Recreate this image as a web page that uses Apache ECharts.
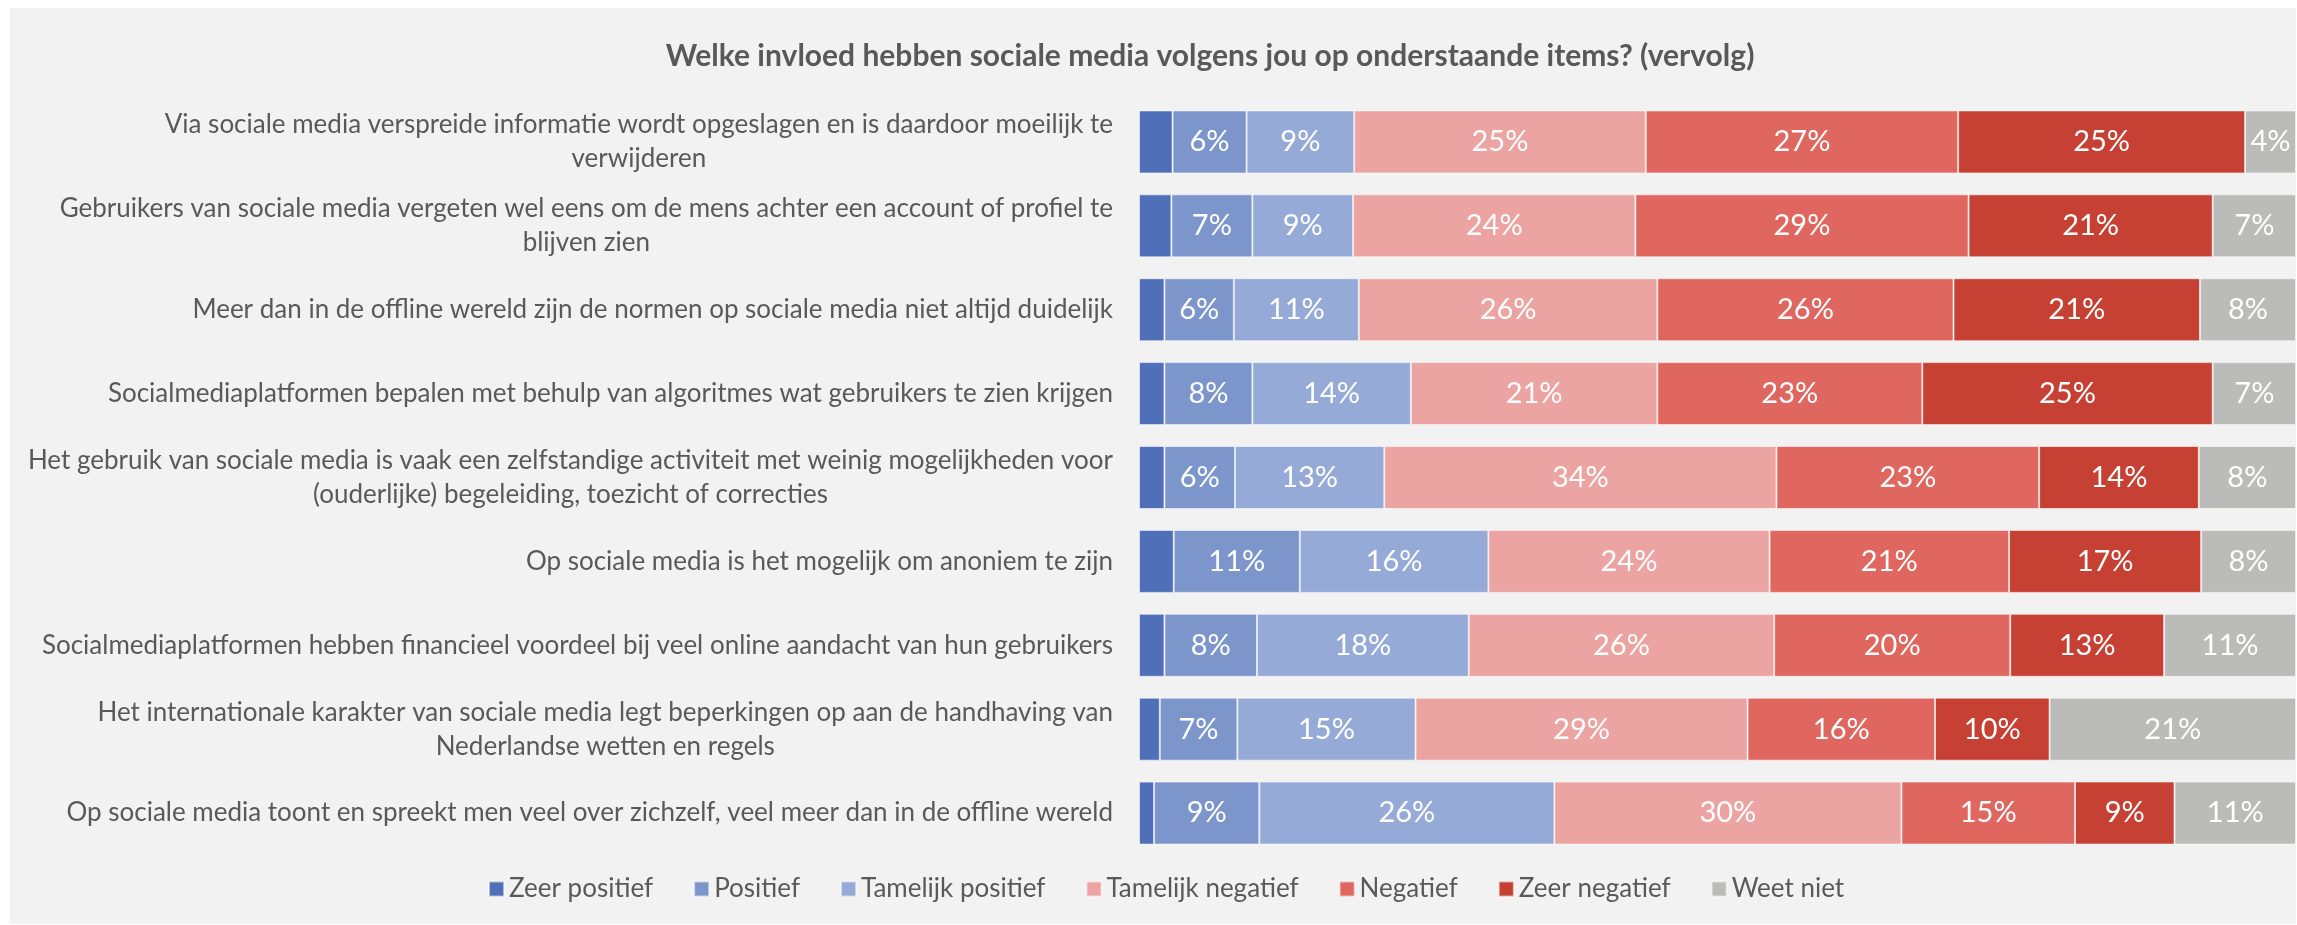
<!DOCTYPE html>
<html>
<head>
<meta charset="utf-8">
<script src="https://cdn.jsdelivr.net/npm/echarts@6/dist/echarts.min.js"></script>
<style>
  html, body { margin: 0; padding: 0; background: #ffffff; }
  #chart { width: 2297px; height: 925px; }
</style>
</head>
<body>
<div id="chart"></div>
<script>
const categories = [
  "Via sociale media verspreide informatie wordt opgeslagen en is daardoor moeilijk te\nverwijderen",
  "Gebruikers van sociale media vergeten wel eens om de mens achter een account of profiel te\nblijven zien",
  "Meer dan in de offline wereld zijn de normen op sociale media niet altijd duidelijk",
  "Socialmediaplatformen bepalen met behulp van algoritmes wat gebruikers te zien krijgen",
  "Het gebruik van sociale media is vaak een zelfstandige activiteit met weinig mogelijkheden voor\n(ouderlijke) begeleiding, toezicht of correcties",
  "Op sociale media is het mogelijk om anoniem te zijn",
  "Socialmediaplatformen hebben financieel voordeel bij veel online aandacht van hun gebruikers",
  "Het internationale karakter van sociale media legt beperkingen op aan de handhaving van\nNederlandse wetten en regels",
  "Op sociale media toont en spreekt men veel over zichzelf, veel meer dan in de offline wereld"
];
const seriesNames = ["Zeer positief", "Positief", "Tamelijk positief", "Tamelijk negatief", "Negatief", "Zeer negatief", "Weet niet"];
const zeerPositief     = [2.9, 2.8, 2.2, 2.2, 2.2, 3.0, 2.2, 1.8, 1.3];
const positief         = [6.4, 7.0, 6.0, 7.6, 6.1, 10.9, 8.0, 6.7, 9.1];
const tamelijkPositief = [9.3, 8.7, 10.8, 13.7, 12.9, 16.3, 18.3, 15.4, 25.5];
const tamelijkNegatief = [25.2, 24.4, 25.8, 21.3, 33.9, 24.3, 26.4, 28.7, 30.0];
const negatief         = [27.0, 28.8, 25.6, 22.9, 22.7, 20.7, 20.4, 16.2, 15.0];
const zeerNegatief     = [24.8, 21.1, 21.3, 25.1, 13.8, 16.6, 13.3, 9.9, 8.6];
const weetNiet         = [4.4, 7.2, 8.3, 7.2, 8.4, 8.2, 11.4, 21.3, 10.5];
const seriesValues = [zeerPositief, positief, tamelijkPositief, tamelijkNegatief, negatief, zeerNegatief, weetNiet];
const colors = ["#4f70b8", "#7c96cc", "#96aad7", "#eba4a1", "#df675f", "#c64034", "#bbbbb9"];
const showLabel = [false, true, true, true, true, true, true];

const FONT = "Lato";
const TEXT = "#595959";

const chart = echarts.init(document.getElementById('chart'), null, { renderer: 'canvas' });

const series = seriesNames.map((name, i) => ({
  name: name,
  type: 'bar',
  stack: 'total',
  barWidth: 63,
  data: seriesValues[i],
  itemStyle: { color: colors[i], borderColor: 'rgba(255,255,255,0.55)', borderWidth: 1 },
  label: {
    show: showLabel[i],
    position: 'inside',
    color: '#ffffff',
    fontFamily: FONT,
    fontSize: 29,
    formatter: p => Math.round(p.value) + '%'
  },
  emphasis: { disabled: true }
}));

chart.setOption({
  backgroundColor: '#ffffff',
  animation: false,
  graphic: [{
    type: 'rect', z: -100, silent: true,
    shape: { x: 10, y: 8, width: 2286, height: 916 },
    style: { fill: '#f2f2f2' }
  }],
  title: {
    text: 'Welke invloed hebben sociale media volgens jou op onderstaande items? (vervolg)',
    left: 1205,
    textAlign: 'center',
    top: 36,
    textStyle: { fontFamily: FONT, fontWeight: 'bold', fontSize: 30, color: TEXT }
  },
  legend: {
    data: seriesNames,
    left: 488,
    width: 1500,
    top: 876,
    padding: 0,
    itemWidth: 15,
    itemHeight: 15,
    itemGap: 40,
    icon: 'rect',
    selectedMode: false,
    textStyle: { fontFamily: FONT, fontSize: 26, color: TEXT }
  },
  grid: { left: 1139, right: 1, top: 100, height: 755, containLabel: false },
  xAxis: {
    type: 'value', min: 0, max: 100,
    show: false
  },
  yAxis: {
    type: 'category',
    data: categories,
    inverse: true,
    axisLine: { show: false },
    axisTick: { show: false },
    axisLabel: {
      margin: 26,
      formatter: v => v.split('\n').map(s => '{c|' + s + '}').join('\n'),
      rich: { c: { align: 'center', fontFamily: FONT, fontSize: 26, color: TEXT, lineHeight: 34 } }
    }
  },
  series: series
});
</script>
</body>
</html>
